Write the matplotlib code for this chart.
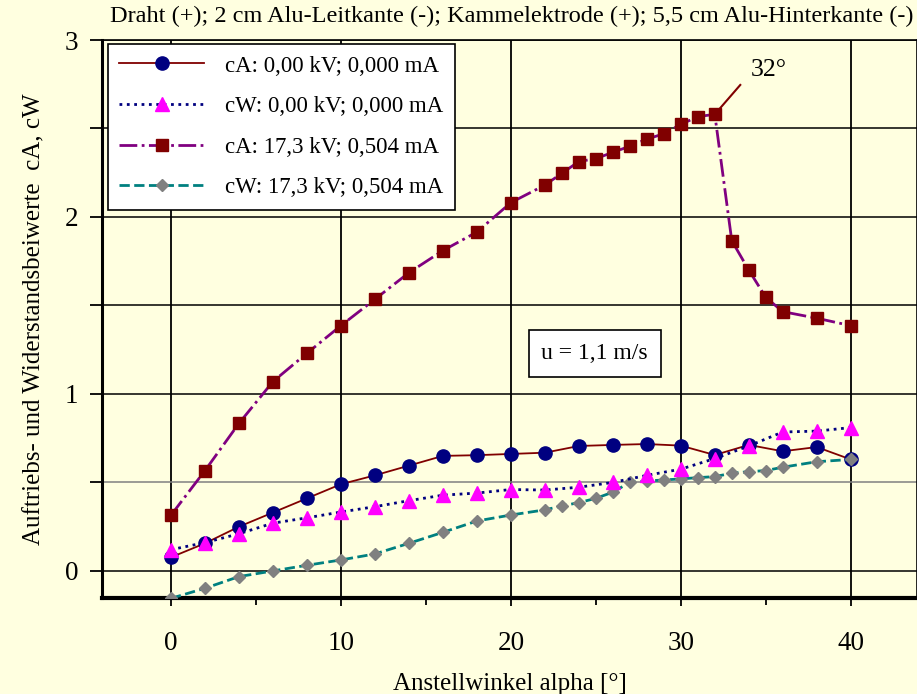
import numpy as np
import matplotlib
matplotlib.use('Agg')
from matplotlib import pyplot as plt

plt.rcParams['font.family'] = ['Liberation Serif', 'DejaVu Serif']

# x values (Anstellwinkel)
x_0kv = [0, 2, 4, 6, 8, 10, 12, 14, 16, 18, 20, 22, 24, 26, 28, 30, 32, 34, 36, 38, 40]
x_17kv = [0, 2, 4, 6, 8, 10, 12, 14, 16, 18, 20, 22, 23, 24, 25, 26, 27, 28, 29, 30,
          31, 32, 33, 34, 35, 36, 38, 40]

# cA / cW at 0,00 kV
ca_0kv = [0.077, 0.156, 0.25, 0.33, 0.41, 0.49, 0.54, 0.595, 0.65, 0.654, 0.661,
          0.668, 0.706, 0.712, 0.717, 0.708, 0.655, 0.712, 0.676, 0.70, 0.63]
cw_0kv = [0.12, 0.16, 0.21, 0.27, 0.30, 0.333, 0.363, 0.397, 0.428, 0.44, 0.46,
          0.457, 0.473, 0.50, 0.54, 0.575, 0.635, 0.706, 0.785, 0.79, 0.81]

# cA / cW at 17,3 kV
ca_17kv = [0.315, 0.567, 0.834, 1.07, 1.23, 1.386, 1.535, 1.685, 1.81, 1.915, 2.081,
           2.18, 2.247, 2.313, 2.33, 2.365, 2.40, 2.44, 2.47, 2.523, 2.567, 2.58,
           1.866, 1.70, 1.546, 1.465, 1.428, 1.386]
cw_17kv = [-0.155, -0.098, -0.032, 0.0, 0.032, 0.062, 0.096, 0.156, 0.218, 0.282, 0.316,
           0.345, 0.367, 0.386, 0.41, 0.445, 0.50, 0.508, 0.514, 0.52, 0.527, 0.533,
           0.552, 0.561, 0.567, 0.586, 0.617, 0.63]

labels = ['cA: 0,00 kV; 0,000 mA', 'cW: 0,00 kV; 0,000 mA',
          'cA: 17,3 kV; 0,504 mA', 'cW: 17,3 kV; 0,504 mA']

bg = '#FFFFE0'
fig = plt.figure(figsize=(9.17, 6.94), dpi=100, facecolor=bg)
ax = fig.add_axes([102/917, 1 - 598/694, 1 - 102/917, (598 - 40)/694])
ax.set_facecolor(bg)

# grid
for gx in [0, 10, 20, 30, 40]:
    ax.axvline(gx, color='black', lw=1.3, zorder=1)
for gy in [0.5, 1, 1.5, 2, 2.5, 3]:
    ax.axhline(gy, color='black' if gy != 0.5 else '#808080', lw=1.1, zorder=1)
ax.axhline(0, color='black', lw=1.1, zorder=1)

ax.plot(x_0kv, ca_0kv, '-', color='#800000', lw=1.3, marker='o', ms=9.5,
        mfc='#000080', mec='#000080', label=labels[0], zorder=3)
ax.plot(x_0kv, cw_0kv, ':', color='#000080', lw=2, marker='^', ms=9.5,
        mfc='#FF00FF', mec='#FF00FF', label=labels[1], zorder=4)
ax.plot(x_17kv, ca_17kv, '-.', color='#800080', lw=2, marker='s', ms=8,
        mfc='#800000', mec='#800000', label=labels[2], zorder=3)
ax.plot(x_17kv, cw_17kv, '--', color='#008080', lw=2, marker='D', ms=6.5,
        mfc='#808080', mec='#808080', label=labels[3], zorder=3)

ax.set_xlim(-4.06, 43.9)
ax.set_ylim(-0.153, 3.0)

ax.set_xticks([0, 10, 20, 30, 40])
ax.set_xticks([5, 15, 25, 35], minor=True)
ax.set_yticks(np.arange(0, 3.01, 0.5))
ax.set_yticklabels(['0', '', '1', '', '2', '', '3'])
ax.tick_params(axis='both', labelsize=19.5, colors='black', width=1.3)
ax.tick_params(axis='y', length=9, pad=8)
ax.tick_params(axis='x', length=6, pad=18)
ax.tick_params(axis='x', which='minor', length=5, width=1.3)

for s in ['top', 'right']:
    ax.spines[s].set_linewidth(1.2)
ax.spines['left'].set_linewidth(2.2)
ax.spines['bottom'].set_linewidth(3)

ax.set_xlabel('Anstellwinkel alpha [°]', fontsize=18, labelpad=12)
ax.set_ylabel('Auftriebs- und Widerstandsbeiwerte  cA, cW', fontsize=18, labelpad=14)

fig.text(512/917, 1 - 16/694,
         'Draht (+); 2 cm Alu-Leitkante (-); Kammelektrode (+); 5,5 cm Alu-Hinterkante (-)',
         ha='center', va='center', fontsize=17.5)

# annotation at the stall angle
ax.plot([32, 33.5], [2.58, 2.746], color='#800000', lw=1.5, zorder=5)
ax.text(35.2, 2.83, '32°', fontsize=18.5, ha='center', va='center')

ax.text(24.94, 1.226, 'u = 1,1 m/s', fontsize=17, ha='center', va='center',
        bbox=dict(boxstyle='square,pad=0.55', fc='white', ec='black', lw=1.2))

leg = ax.legend(loc='upper left', bbox_to_anchor=(108/917, 1 - 44/694),
                bbox_transform=fig.transFigure, fontsize=16.5, frameon=True,
                fancybox=False, edgecolor='black', framealpha=1, facecolor='white',
                handlelength=3.7, handletextpad=0.9, labelspacing=0.85,
                borderpad=0.5, borderaxespad=0)
leg.get_frame().set_linewidth(1.2)
leg.set_zorder(10)

fig.savefig('out.png', dpi=100, facecolor=bg)
